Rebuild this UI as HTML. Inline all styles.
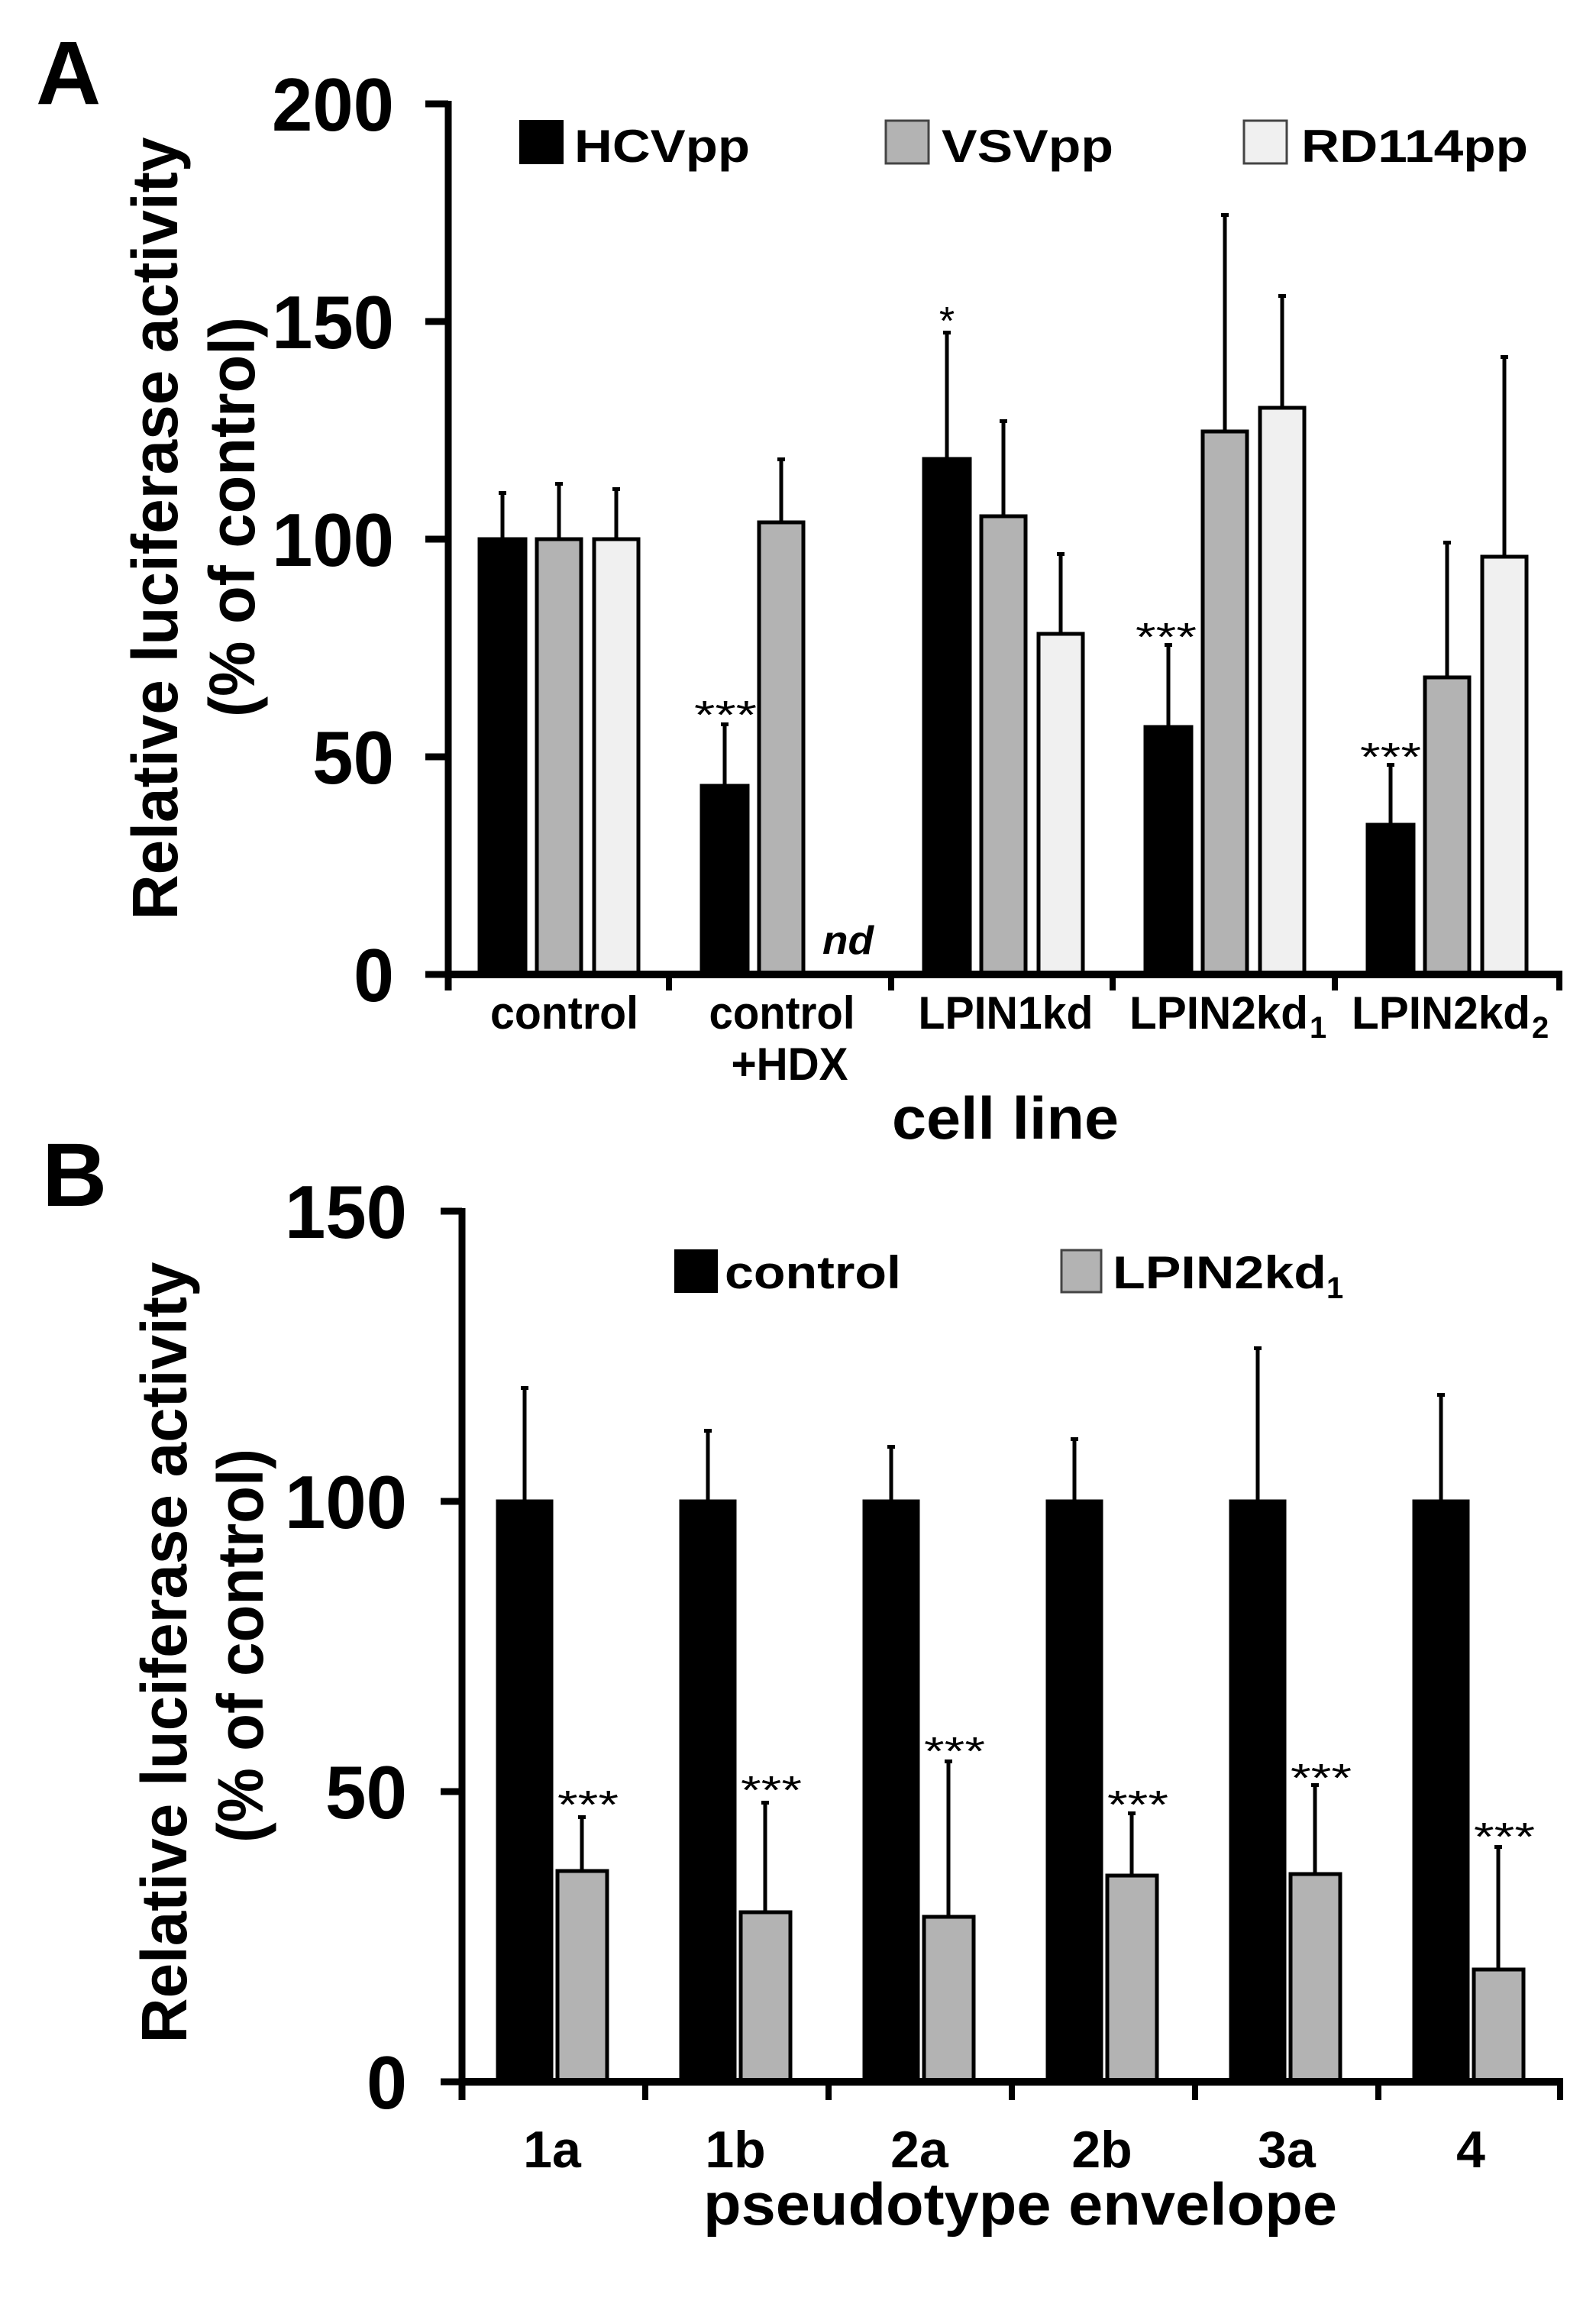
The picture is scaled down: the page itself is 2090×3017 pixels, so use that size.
<!DOCTYPE html>
<html><head><meta charset="utf-8"><style>
html,body{margin:0;padding:0;background:#fff;}
svg{display:block;}
text{font-family:"Liberation Sans",Arial,sans-serif;font-weight:bold;fill:#000;}
.st{font-weight:normal;}
</style></head><body>
<svg width="2090" height="3017" viewBox="0 0 2090 3017" xmlns="http://www.w3.org/2000/svg">
<rect width="2090" height="3017" fill="#fff"/>
<!-- ================= PANEL A ================= -->
<text x="47" y="136" font-size="118">A</text>
<text transform="translate(232,692) rotate(-90)" text-anchor="middle" font-size="84" textLength="1025" lengthAdjust="spacingAndGlyphs">Relative luciferase activity</text>
<text transform="translate(333,677) rotate(-90)" text-anchor="middle" font-size="84" textLength="524" lengthAdjust="spacingAndGlyphs">(% of control)</text>
<g font-size="98" text-anchor="end">
<text x="516" y="171" textLength="160" lengthAdjust="spacingAndGlyphs">200</text>
<text x="516" y="456" textLength="160" lengthAdjust="spacingAndGlyphs">150</text>
<text x="516" y="741" textLength="160" lengthAdjust="spacingAndGlyphs">100</text>
<text x="516" y="1026" textLength="107" lengthAdjust="spacingAndGlyphs">50</text>
<text x="516" y="1311" textLength="53" lengthAdjust="spacingAndGlyphs">0</text>
</g>
<!-- legend A -->
<rect x="680" y="157" width="58" height="58" fill="#000"/>
<text x="752" y="212" font-size="60" textLength="230" lengthAdjust="spacingAndGlyphs">HCVpp</text>
<rect x="1160" y="158" width="56" height="56" fill="#b3b3b3" stroke="#444" stroke-width="3"/>
<text x="1233" y="212" font-size="60" textLength="225" lengthAdjust="spacingAndGlyphs">VSVpp</text>
<rect x="1629" y="158" width="56" height="56" fill="#f0f0f0" stroke="#444" stroke-width="3"/>
<text x="1704" y="212" font-size="60" textLength="297" lengthAdjust="spacingAndGlyphs">RD114pp</text>
<!-- bars A -->
<g stroke="#000" stroke-width="5">
<rect x="628" y="706" width="60" height="570" fill="#000"/>
<rect x="703" y="706" width="58" height="570" fill="#b3b3b3"/>
<rect x="778" y="706" width="58" height="570" fill="#f0f0f0"/>
<rect x="919" y="1029" width="60" height="247" fill="#000"/>
<rect x="994" y="684" width="58" height="592" fill="#b3b3b3"/>
<rect x="1210" y="601" width="60" height="675" fill="#000"/>
<rect x="1285" y="676" width="58" height="600" fill="#b3b3b3"/>
<rect x="1360" y="830" width="58" height="446" fill="#f0f0f0"/>
<rect x="1500" y="952" width="60" height="324" fill="#000"/>
<rect x="1575" y="565" width="58" height="711" fill="#b3b3b3"/>
<rect x="1650" y="534" width="58" height="742" fill="#f0f0f0"/>
<rect x="1791" y="1080" width="60" height="196" fill="#000"/>
<rect x="1866" y="887" width="58" height="389" fill="#b3b3b3"/>
<rect x="1941" y="729" width="58" height="547" fill="#f0f0f0"/>
</g>
<!-- error bars A -->
<g stroke="#000" stroke-width="5">
<line x1="658" y1="706" x2="658" y2="645"/><line x1="732" y1="706" x2="732" y2="633"/><line x1="807" y1="706" x2="807" y2="640"/>
<line x1="949" y1="1029" x2="949" y2="948"/><line x1="1023" y1="684" x2="1023" y2="601"/>
<line x1="1240" y1="601" x2="1240" y2="435"/><line x1="1314" y1="676" x2="1314" y2="551"/><line x1="1389" y1="830" x2="1389" y2="725"/>
<line x1="1530" y1="952" x2="1530" y2="844"/><line x1="1604" y1="565" x2="1604" y2="281"/><line x1="1679" y1="534" x2="1679" y2="387"/>
<line x1="1821" y1="1080" x2="1821" y2="1001"/><line x1="1895" y1="887" x2="1895" y2="710"/><line x1="1970" y1="729" x2="1970" y2="467"/>
</g>
<g fill="#000">
<rect x="653" y="643" width="10" height="5"/><rect x="727" y="631" width="10" height="5"/><rect x="802" y="638" width="10" height="5"/>
<rect x="944" y="946" width="10" height="5"/><rect x="1018" y="599" width="10" height="5"/>
<rect x="1235" y="433" width="10" height="5"/><rect x="1309" y="549" width="10" height="5"/><rect x="1384" y="723" width="10" height="5"/>
<rect x="1525" y="842" width="10" height="5"/><rect x="1599" y="279" width="10" height="5"/><rect x="1674" y="385" width="10" height="5"/>
<rect x="1816" y="999" width="10" height="5"/><rect x="1890" y="708" width="10" height="5"/><rect x="1965" y="465" width="10" height="5"/>
</g>
<g class="st" font-size="52" text-anchor="middle">
<text class="st" x="950" y="954" textLength="82" lengthAdjust="spacingAndGlyphs">***</text>
<text class="st" x="1240" y="438">*</text>
<text class="st" x="1527" y="852" textLength="80" lengthAdjust="spacingAndGlyphs">***</text>
<text class="st" x="1821" y="1009" textLength="80" lengthAdjust="spacingAndGlyphs">***</text>
</g>
<text x="1077" y="1249" font-size="52" font-style="italic" textLength="67" lengthAdjust="spacingAndGlyphs">nd</text>
<!-- axes A -->
<g stroke="#000">
<line x1="587" y1="132" x2="587" y2="1297" stroke-width="9"/>
<line x1="557" y1="136" x2="587" y2="136" stroke-width="9"/>
<line x1="557" y1="421" x2="587" y2="421" stroke-width="9"/>
<line x1="557" y1="706" x2="587" y2="706" stroke-width="9"/>
<line x1="557" y1="991" x2="587" y2="991" stroke-width="9"/>
<line x1="557" y1="1276" x2="587" y2="1276" stroke-width="9"/>
<line x1="583" y1="1276" x2="2046" y2="1276" stroke-width="10"/>
<line x1="876" y1="1276" x2="876" y2="1297" stroke-width="8"/>
<line x1="1167" y1="1276" x2="1167" y2="1297" stroke-width="8"/>
<line x1="1457" y1="1276" x2="1457" y2="1297" stroke-width="8"/>
<line x1="1748" y1="1276" x2="1748" y2="1297" stroke-width="8"/>
<line x1="2042" y1="1276" x2="2042" y2="1297" stroke-width="8"/>
</g>
<g font-size="60">
<text x="739" y="1347" text-anchor="middle" textLength="194" lengthAdjust="spacingAndGlyphs">control</text>
<text x="1024" y="1347" text-anchor="middle" textLength="191" lengthAdjust="spacingAndGlyphs">control</text>
<text x="1034" y="1414" text-anchor="middle" textLength="153" lengthAdjust="spacingAndGlyphs">+HDX</text>
<text x="1317" y="1347" text-anchor="middle" textLength="229" lengthAdjust="spacingAndGlyphs">LPIN1kd</text>
<text x="1479" y="1347" textLength="234" lengthAdjust="spacingAndGlyphs">LPIN2kd</text>
<text x="1770" y="1347" textLength="234" lengthAdjust="spacingAndGlyphs">LPIN2kd</text>
</g>
<text x="1715" y="1359" font-size="40">1</text>
<text x="2006" y="1359" font-size="40">2</text>
<text x="1168" y="1491" font-size="78" textLength="297" lengthAdjust="spacingAndGlyphs">cell line</text>

<!-- ================= PANEL B ================= -->
<text x="55" y="1579" font-size="118">B</text>
<text transform="translate(244,2164) rotate(-90)" text-anchor="middle" font-size="84" textLength="1023" lengthAdjust="spacingAndGlyphs">Relative luciferase activity</text>
<text transform="translate(344,2155) rotate(-90)" text-anchor="middle" font-size="84" textLength="516" lengthAdjust="spacingAndGlyphs">(% of control)</text>
<g font-size="98" text-anchor="end">
<text x="533" y="1621" textLength="160" lengthAdjust="spacingAndGlyphs">150</text>
<text x="533" y="2001" textLength="160" lengthAdjust="spacingAndGlyphs">100</text>
<text x="533" y="2381" textLength="107" lengthAdjust="spacingAndGlyphs">50</text>
<text x="533" y="2761" textLength="53" lengthAdjust="spacingAndGlyphs">0</text>
</g>
<!-- legend B -->
<rect x="883" y="1636" width="57" height="57" fill="#000"/>
<text x="949" y="1687" font-size="60" textLength="231" lengthAdjust="spacingAndGlyphs">control</text>
<rect x="1390" y="1637" width="52" height="55" fill="#b3b3b3" stroke="#444" stroke-width="3"/>
<text x="1457" y="1687" font-size="60" textLength="280" lengthAdjust="spacingAndGlyphs">LPIN2kd</text>
<text x="1737" y="1700" font-size="40">1</text>
<!-- bars B -->
<g stroke="#000" stroke-width="5">
<rect x="652" y="1966" width="70" height="760" fill="#000"/>
<rect x="892" y="1966" width="70" height="760" fill="#000"/>
<rect x="1132" y="1966" width="70" height="760" fill="#000"/>
<rect x="1372" y="1966" width="70" height="760" fill="#000"/>
<rect x="1612" y="1966" width="70" height="760" fill="#000"/>
<rect x="1852" y="1966" width="70" height="760" fill="#000"/>
<rect x="730" y="2450" width="65" height="276" fill="#b3b3b3"/>
<rect x="970" y="2504" width="65" height="222" fill="#b3b3b3"/>
<rect x="1210" y="2510" width="65" height="216" fill="#b3b3b3"/>
<rect x="1450" y="2456" width="65" height="270" fill="#b3b3b3"/>
<rect x="1690" y="2454" width="65" height="272" fill="#b3b3b3"/>
<rect x="1930" y="2579" width="65" height="147" fill="#b3b3b3"/>
</g>
<g stroke="#000" stroke-width="5">
<line x1="687" y1="1966" x2="687" y2="1817"/><line x1="927" y1="1966" x2="927" y2="1873"/><line x1="1167" y1="1966" x2="1167" y2="1894"/>
<line x1="1407" y1="1966" x2="1407" y2="1884"/><line x1="1647" y1="1966" x2="1647" y2="1765"/><line x1="1887" y1="1966" x2="1887" y2="1826"/>
<line x1="762" y1="2450" x2="762" y2="2379"/><line x1="1002" y1="2504" x2="1002" y2="2360"/><line x1="1242" y1="2510" x2="1242" y2="2306"/>
<line x1="1482" y1="2456" x2="1482" y2="2374"/><line x1="1722" y1="2454" x2="1722" y2="2337"/><line x1="1962" y1="2579" x2="1962" y2="2418"/>
</g>
<g fill="#000">
<rect x="682" y="1815" width="10" height="5"/><rect x="922" y="1871" width="10" height="5"/><rect x="1162" y="1892" width="10" height="5"/>
<rect x="1402" y="1882" width="10" height="5"/><rect x="1642" y="1763" width="10" height="5"/><rect x="1882" y="1824" width="10" height="5"/>
<rect x="757" y="2377" width="10" height="5"/><rect x="997" y="2358" width="10" height="5"/><rect x="1237" y="2304" width="10" height="5"/>
<rect x="1477" y="2372" width="10" height="5"/><rect x="1717" y="2335" width="10" height="5"/><rect x="1957" y="2416" width="10" height="5"/>
</g>
<g font-size="52" text-anchor="middle">
<text class="st" x="770" y="2381" textLength="80" lengthAdjust="spacingAndGlyphs">***</text>
<text class="st" x="1010" y="2362" textLength="80" lengthAdjust="spacingAndGlyphs">***</text>
<text class="st" x="1250" y="2311" textLength="80" lengthAdjust="spacingAndGlyphs">***</text>
<text class="st" x="1490" y="2381" textLength="80" lengthAdjust="spacingAndGlyphs">***</text>
<text class="st" x="1730" y="2346" textLength="80" lengthAdjust="spacingAndGlyphs">***</text>
<text class="st" x="1970" y="2423" textLength="80" lengthAdjust="spacingAndGlyphs">***</text>
</g>
<!-- axes B -->
<g stroke="#000">
<line x1="605" y1="1582" x2="605" y2="2750" stroke-width="9"/>
<line x1="577" y1="1586" x2="605" y2="1586" stroke-width="9"/>
<line x1="577" y1="1966" x2="605" y2="1966" stroke-width="9"/>
<line x1="577" y1="2346" x2="605" y2="2346" stroke-width="9"/>
<line x1="577" y1="2726" x2="605" y2="2726" stroke-width="9"/>
<line x1="601" y1="2726" x2="2047" y2="2726" stroke-width="10"/>
<line x1="845" y1="2726" x2="845" y2="2750" stroke-width="8"/>
<line x1="1085" y1="2726" x2="1085" y2="2750" stroke-width="8"/>
<line x1="1325" y1="2726" x2="1325" y2="2750" stroke-width="8"/>
<line x1="1565" y1="2726" x2="1565" y2="2750" stroke-width="8"/>
<line x1="1805" y1="2726" x2="1805" y2="2750" stroke-width="8"/>
<line x1="2043" y1="2726" x2="2043" y2="2750" stroke-width="8"/>
</g>
<g font-size="68" text-anchor="middle">
<text x="723" y="2838">1a</text>
<text x="963" y="2838">1b</text>
<text x="1204" y="2838">2a</text>
<text x="1443" y="2838">2b</text>
<text x="1685" y="2838">3a</text>
<text x="1926" y="2838">4</text>
</g>
<text x="921" y="2913" font-size="78" textLength="830" lengthAdjust="spacingAndGlyphs">pseudotype envelope</text>
</svg>
</body></html>
